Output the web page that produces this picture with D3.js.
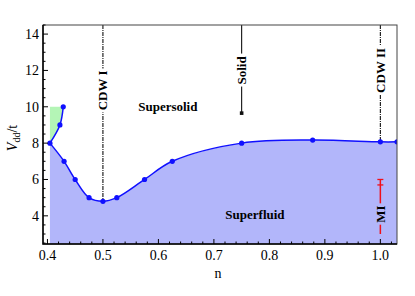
<!DOCTYPE html>
<html><head><meta charset="utf-8">
<script src="https://cdn.jsdelivr.net/npm/d3@7"></script>
<style>body{margin:0;background:#fff}svg{display:block}</style>
</head><body>
<svg id="c" width="415" height="296"></svg>
<script>
// Data
const lowerN = [0.4045, 0.43, 0.45, 0.475, 0.5, 0.525, 0.575, 0.625, 0.75, 0.878, 1.0, 1.03];
const lowerV = [8.0, 7.0, 6.0, 5.0, 4.8, 5.0, 6.0, 7.0, 8.0, 8.17, 8.07, 8.07];
const upperN = [0.4045, 0.4225, 0.4285];
const upperV = [8.0, 9.0, 10.0];
const greenTopV = 10.0;
const xTicks = [0.4, 0.5, 0.6, 0.7, 0.8, 0.9, 1.0];
const yTicks = [4, 6, 8, 10, 12, 14];
const phaseLines = [
  {n: 0.5, to: 4.8, label: "CDW I", labelV: 10.9, dot: false},
  {n: 0.75, to: 9.65, label: "Solid", labelV: 12.0, dot: true},
  {n: 1.0, to: 8.07, label: "CDW II", labelV: 12.0, dot: false}
];
const regionLabels = [
  {text: "Supersolid", n: 0.617, v: 10.0},
  {text: "Superfluid", n: 0.774, v: 4.05}
];
const miBar = {n: 1.0, lo: 3.0, hi: 6.0, cap2: 5.7, labelV: 4.1};

const svg = d3.select("#c");
const x = d3.scaleLinear().domain([0.392, 1.03]).range([43, 397]);
const y = d3.scaleLinear().domain([2.45, 14.5]).range([244, 25]);
const blue = "#1010ff";
const fillBlue = "rgb(178,182,250)";
const font = "Times New Roman, Liberation Serif, serif";

const lower = lowerN.map((n, i) => [n, lowerV[i]]);
const upper = upperN.map((n, i) => [n, upperV[i]]);

svg.append("clipPath").attr("id", "pc").append("rect")
  .attr("x", x.range()[0]).attr("y", y.range()[1])
  .attr("width", x.range()[1] - x.range()[0]).attr("height", y.range()[0] - y.range()[1]);
const g = svg.append("g").attr("clip-path", "url(#pc)");

const curve = d3.curveCatmullRom.alpha(0.5);
g.append("path").datum(lower)
  .attr("d", d3.area().x(d => x(d[0])).y0(y(2.45)).y1(d => y(d[1])).curve(curve))
  .attr("fill", fillBlue);
const line = d3.line().x(d => x(d[0])).y(d => y(d[1])).curve(curve);
g.append("path")
  .attr("d", line(upper) + `L${x(upperN[0])},${y(greenTopV)}Z`)
  .attr("fill", "rgb(180,245,182)");

phaseLines.forEach(p => {
  g.append("line").attr("x1", x(p.n)).attr("x2", x(p.n))
    .attr("y1", y(14.5)).attr("y2", y(p.to))
    .attr("stroke", "#111").attr("stroke-width", 1.1)
    .attr("stroke-dasharray", p.dot ? null : "4,1,1,1");
  if (p.dot) g.append("rect").attr("x", x(p.n) - 1.8).attr("y", y(p.to) - 1.8)
    .attr("width", 3.6).attr("height", 3.6).attr("fill", "#111");
});

g.append("path").datum(lower).attr("d", line).attr("fill", "none").attr("stroke", blue).attr("stroke-width", 1.5);
g.append("path").datum(upper).attr("d", line).attr("fill", "none").attr("stroke", blue).attr("stroke-width", 1.5);
g.selectAll("circle.p").data(lower.concat(upper.slice(1))).enter().append("circle")
  .attr("cx", d => x(d[0])).attr("cy", d => y(d[1])).attr("r", 2.6).attr("fill", blue);

const mx = x(miBar.n);
g.append("line").attr("x1", mx).attr("x2", mx).attr("y1", y(miBar.lo)).attr("y2", y(miBar.hi))
  .attr("stroke", "#f0101a").attr("stroke-width", 1.5);
[miBar.hi, miBar.cap2].forEach(v => g.append("line").attr("x1", mx - 3).attr("x2", mx + 3)
  .attr("y1", y(v)).attr("y2", y(v)).attr("stroke", "#f0101a").attr("stroke-width", 1.3));

function rotLabel(text, px, py, bg) {
  const t = svg.append("g").attr("transform", `translate(${px},${py}) rotate(-90)`);
  const tx = t.append("text").attr("text-anchor", "middle").attr("dy", "0.35em")
    .attr("font-family", font).attr("font-weight", "bold").attr("font-size", 13).text(text);
  const b = tx.node().getBBox();
  t.insert("rect", "text").attr("x", b.x - 2).attr("y", b.y + 1).attr("width", b.width + 4)
    .attr("height", b.height - 2).attr("fill", bg);
}
phaseLines.forEach(p => rotLabel(p.label, x(p.n), y(p.labelV), "#fff"));
rotLabel("MI", mx, y(miBar.labelV), fillBlue);

regionLabels.forEach(r => svg.append("text").attr("x", x(r.n)).attr("y", y(r.v))
  .attr("text-anchor", "middle").attr("dy", "0.35em").attr("font-family", font)
  .attr("font-weight", "bold").attr("font-size", 13).text(r.text));

svg.append("rect").attr("x", 43).attr("y", 25).attr("width", 354).attr("height", 219)
  .attr("fill", "none").attr("stroke", "#444").attr("stroke-width", 1);
svg.append("path").attr("d", "M43,25V244H397").attr("fill", "none").attr("stroke", "#000").attr("stroke-width", 1.5);

d3.range(0.4, 1.03, 0.02).forEach(v => {
  const major = xTicks.some(t => Math.abs(t - v) < 1e-6);
  svg.append("line").attr("x1", x(v)).attr("x2", x(v)).attr("y1", 244).attr("y2", 244 - (major ? 5 : 2.5))
    .attr("stroke", "#000").attr("stroke-width", 1);
});
d3.range(2.5, 14.51, 0.5).forEach(v => {
  const major = yTicks.some(t => Math.abs(t - v) < 1e-6);
  svg.append("line").attr("x1", 43).attr("x2", 43 + (major ? 5 : 2.5)).attr("y1", y(v)).attr("y2", y(v))
    .attr("stroke", "#000").attr("stroke-width", 1);
});
xTicks.forEach(v => svg.append("text").attr("x", x(v)).attr("y", 260).attr("text-anchor", "middle")
  .attr("font-family", font).attr("font-size", 14).text(d3.format(".1f")(v)));
yTicks.forEach(v => svg.append("text").attr("x", 39).attr("y", y(v)).attr("dy", "0.35em").attr("text-anchor", "end")
  .attr("font-family", font).attr("font-size", 14).text(v));

svg.append("text").attr("x", 218).attr("y", 278).attr("text-anchor", "middle")
  .attr("font-family", font).attr("font-size", 14).text("n");
const yl = svg.append("text").attr("transform", "translate(17,138) rotate(-90)").attr("text-anchor", "middle")
  .attr("font-family", font).attr("font-size", 14);
yl.append("tspan").attr("font-style", "italic").text("V");
yl.append("tspan").attr("font-size", 10).attr("dy", 3).text("dd");
yl.append("tspan").attr("dy", -3).text("/t");
</script>
</body></html>
